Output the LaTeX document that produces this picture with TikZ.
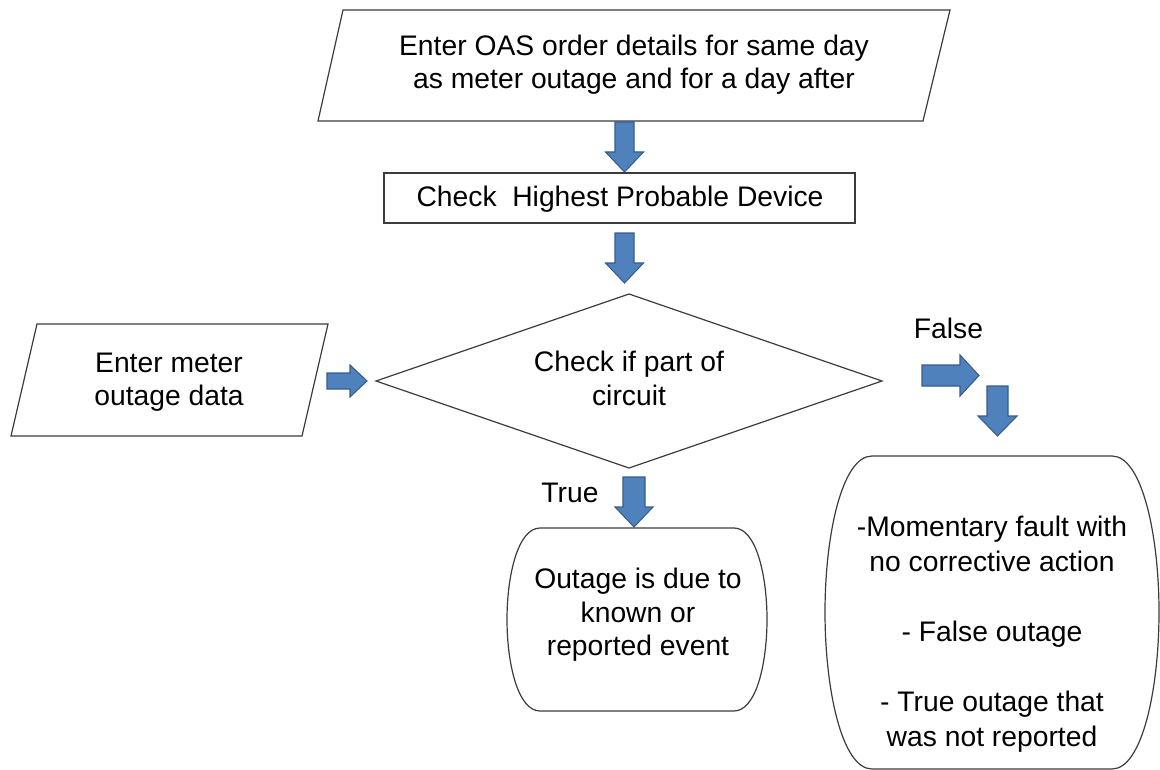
\documentclass[tikz,border=0pt]{standalone}
\usepackage{fontspec}
\setmainfont{Liberation Sans}
\definecolor{arrfill}{RGB}{79,129,189}
\definecolor{arredge}{RGB}{56,93,138}
\definecolor{edgegray}{RGB}{60,60,60}
% cx, top, head start, tip, body half width, head half width
\newcommand\dnblock[6]{%
  \draw[blockarrow] (#1-#5,#2) -- (#1+#5,#2) -- (#1+#5,#3) -- (#1+#6,#3) -- (#1,#4) -- (#1-#6,#3) -- (#1-#5,#3) -- cycle;}
% cy, left, head start, tip, body half width, head half width
\newcommand\rtblock[6]{%
  \draw[blockarrow] (#2,#1-#5) -- (#3,#1-#5) -- (#3,#1-#6) -- (#4,#1) -- (#3,#1+#6) -- (#3,#1+#5) -- (#2,#1+#5) -- cycle;}
\begin{document}
\begin{tikzpicture}[x=0.75pt,y=-0.75pt,
  shapeline/.style={draw=edgegray,line width=0.9pt,line join=miter},
  blockarrow/.style={fill=arrfill,draw=arredge,line width=0.8pt,line join=miter},
  txt/.style={align=center,font=\fontsize{21.2}{25}\selectfont,inner sep=0pt},
  txtwide/.style={align=center,font=\fontsize{21.2}{26.25}\selectfont,inner sep=0pt}]
\useasboundingbox (0,0) rectangle (1160,770);
\fill[white] (0,0) rectangle (1160,770);

% top parallelogram
\draw[shapeline] (343,10) -- (950,10) -- (923,121) -- (318,121) -- cycle;
\node[txt] (oas) at (634,64.5) {Enter OAS order details for same day\\as meter outage and for a day after};

% arrow 1
\dnblock{624.5}{122}{152}{172}{9.5}{19}

% rectangle
\draw[shapeline] (384,173) rectangle (855,223);
\node[txt] (hpd) at (620,199.5) {Check\ \ Highest Probable Device};

% arrow 2
\dnblock{624.5}{233}{263}{283}{9.5}{19}

% diamond
\draw[shapeline] (376,381) -- (629,294) -- (882,381) -- (629,468) -- cycle;
\node[txt] (dec) at (629,378.5) {Check if part of\\circuit};

% left parallelogram
\draw[shapeline] (37,324) -- (328,324) -- (302,436) -- (11,436) -- cycle;
\node[txt] (meter) at (169,382.5) {Enter meter\\outage data};

% left arrow
\rtblock{381}{327}{350}{367}{8}{16}

% False branch
\node[txt] (false) at (948.5,328.5) {False};
\rtblock{375.5}{922}{960}{979}{10.5}{20.5}
\dnblock{997.5}{386}{416}{436}{10.5}{19.5}

% True branch
\node[txt] (true) at (570,492.5) {True};
\dnblock{634}{477}{507}{527}{11}{19}

% middle terminal
\draw[shapeline] (540,528) -- (734,528)
  .. controls (756,528) and (767,575) .. (767,619.5)
  .. controls (767,664) and (756,711) .. (734,711) -- (540,711)
  .. controls (518,711) and (507,664) .. (507,619.5)
  .. controls (507,575) and (518,528) .. (540,528) -- cycle;
\node[txt] (known) at (638,615) {Outage is due to\\known or\\reported event};

% right terminal
\draw[shapeline] (872,456) -- (1112,456)
  .. controls (1142,456) and (1159,535) .. (1159,612)
  .. controls (1159,690) and (1142,769) .. (1112,769) -- (872,769)
  .. controls (842,769) and (825,690) .. (825,612)
  .. controls (825,535) and (842,456) .. (872,456) -- cycle;
\node[txtwide] (fault) at (992,634.5) {-Momentary fault with\\no corrective action\\[26.25pt]- False outage\\[26.25pt]- True outage that\\was not reported};
\end{tikzpicture}
\end{document}
